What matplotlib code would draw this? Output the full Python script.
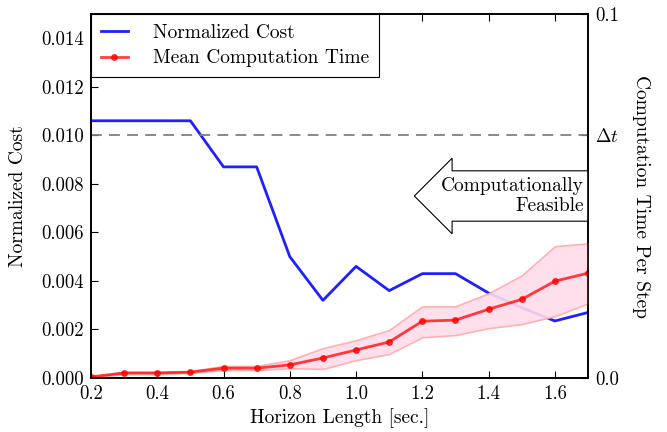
import matplotlib
matplotlib.use("Agg")
import matplotlib.pyplot as plt

plt.rcParams['font.family'] = 'serif'
plt.rcParams['font.serif'] = ['cmr10']
plt.rcParams['mathtext.fontset'] = 'cm'
plt.rcParams['axes.formatter.use_mathtext'] = True
plt.rcParams['font.size'] = 14

# horizon lengths
horizon = [0.2, 0.3, 0.4, 0.5, 0.6, 0.7, 0.8, 0.9, 1.0, 1.1, 1.2, 1.3, 1.4, 1.5, 1.6, 1.7]

# normalized cost (left axis)
cost = [0.0106, 0.0106, 0.0106, 0.0106, 0.0087, 0.0087, 0.0050, 0.0032,
        0.0046, 0.0036, 0.0043, 0.0043, 0.0035, 0.0029, 0.00235, 0.0027]

# computation time per step (right axis)
time_mean = [0.0003, 0.0014, 0.0014, 0.0016, 0.0027, 0.0027, 0.0036, 0.0055,
             0.0077, 0.0099, 0.0156, 0.0159, 0.0189, 0.0216, 0.0266, 0.0288]
time_upper = [0.0003, 0.0016, 0.0016, 0.0019, 0.0033, 0.0033, 0.0049, 0.0082,
              0.0104, 0.0132, 0.0197, 0.0197, 0.0233, 0.0282, 0.0362, 0.0370]
time_lower = [0.0, 0.0011, 0.0011, 0.0014, 0.0022, 0.0022, 0.0027, 0.0025,
              0.0049, 0.0066, 0.0112, 0.0118, 0.0137, 0.0148, 0.0170, 0.0205]

dt = 0.1 / 1.5

fig = plt.figure(figsize=(6.67, 4.32), dpi=100)
ax = fig.add_axes([0.1364, 0.125, 0.7452, 0.8426])
ax2 = ax.twinx()

l1, = ax.plot(horizon, cost, color='#1f1fff', lw=2, label='Normalized Cost')
ax.set_xlim(0.2, 1.7)
ax.set_ylim(0, 0.015)
ax.set_yticks([0, 0.002, 0.004, 0.006, 0.008, 0.010, 0.012, 0.014])
ax.set_yticklabels(['0.000', '0.002', '0.004', '0.006', '0.008', '0.010', '0.012', '0.014'])
ax.set_xticks([0.2, 0.4, 0.6, 0.8, 1.0, 1.2, 1.4, 1.6])
ax.set_xticklabels(['0.2', '0.4', '0.6', '0.8', '1.0', '1.2', '1.4', '1.6'])
ax.tick_params(direction='in', top=True, length=5, labelsize=13.5, pad=5)
ax.set_xlabel('Horizon Length [sec.]', labelpad=4)
ax.set_ylabel('Normalized Cost', labelpad=10)

ax2.fill_between(horizon, time_lower, time_upper, facecolor='#ffdcea',
                 edgecolor='#ffaaaa', alpha=0.9, lw=1.2)
l2, = ax2.plot(horizon, time_mean, color='red', alpha=0.75, lw=2,
               marker='o', ms=4, label='Mean Computation Time')
ax2.axhline(dt, color='gray', ls=(0, (6, 4)), lw=1.3)
ax2.set_ylim(0, 0.1)
ax2.set_yticks([0, dt, 0.1])
ax2.set_yticklabels(['0.0', r'$\Delta t$', '0.1'])
ax2.tick_params(direction='in', length=5, labelsize=13.5, pad=5)
ax2.set_ylabel('Computation Time Per Step', rotation=270, labelpad=22)

ax2.text(1.688, 0.0500, 'Computationally\nFeasible', ha='right', va='center',
         multialignment='right', fontsize=14, clip_on=True,
         bbox=dict(boxstyle='larrow,pad=0.3', fc='white', ec='black', lw=0.8))

for a in (ax, ax2):
    for s in a.spines.values():
        s.set_linewidth(1.2)
        s.set_zorder(5)

leg = ax2.legend([l1, l2], ['Normalized Cost', 'Mean Computation Time'],
                 loc='upper left', fancybox=False, edgecolor='black',
                 framealpha=1, borderaxespad=0, handlelength=1.4,
                 handletextpad=1.3, borderpad=0.5, fontsize=14,
                 labelspacing=0.4)
leg.get_frame().set_linewidth(0.8)

fig.savefig('out.png', dpi=100)
